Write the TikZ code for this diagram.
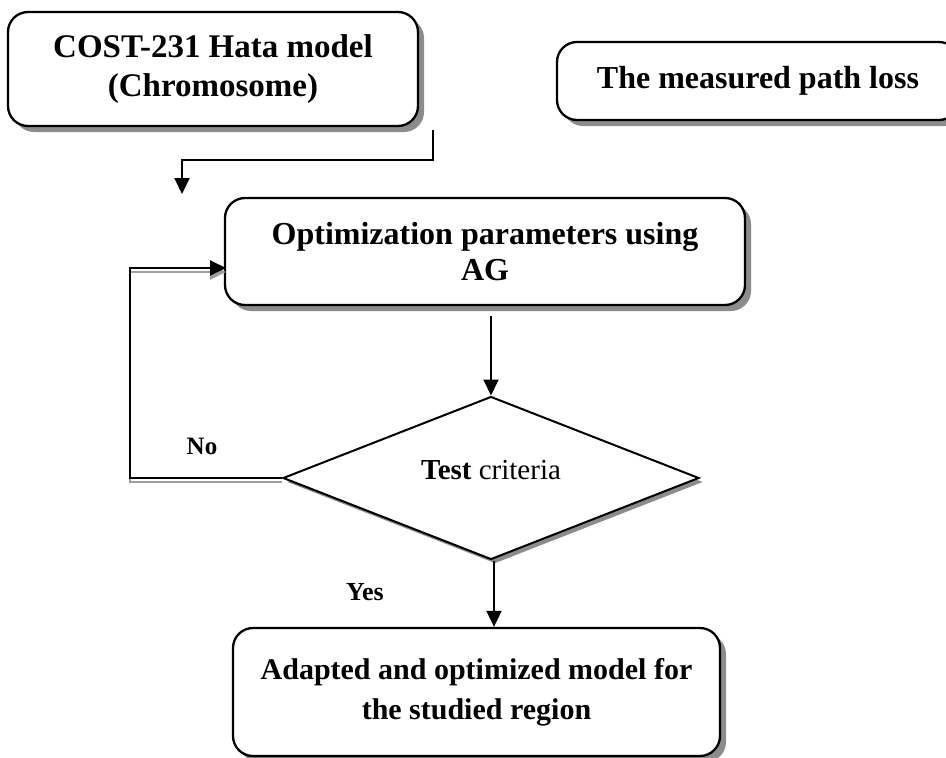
\documentclass[tikz,border=0pt]{standalone}
\usepackage{fontspec}
\setmainfont{Liberation Serif}
\usetikzlibrary{shadows,shapes.geometric,arrows.meta}
\begin{document}
\begin{tikzpicture}[x=1pt,y=-1pt,
  boxshadow/.style={drop shadow={shadow xshift=6pt,shadow yshift=-6pt,fill=black!45,opacity=1}},
  box/.style={draw,line width=2.3pt,rounded corners=20pt,fill=white,align=center,
    inner sep=0pt,boxshadow},
  decision/.style={draw,diamond,line width=2pt,fill=white,inner sep=0pt,
    drop shadow={shadow xshift=4pt,shadow yshift=-4pt,fill=black!45,opacity=1}},
  conn/.style={line width=1.9pt,-{Triangle[length=16pt,width=15pt]}},
  connshadow/.style={line width=2.8pt,draw=black!38,-{Triangle[length=16pt,width=15pt]}},
  lbl/.style={font=\bfseries\fontsize{25}{30}\selectfont,inner sep=0pt}
]
\clip (0,0) rectangle (946,758);
\fill[white] (0,0) rectangle (946,758);

\node[box,minimum width=410pt,minimum height=114pt,font=\bfseries\fontsize{33}{39}\selectfont]
  (cost) at (213,69) {COST-231 Hata model\\(Chromosome)};
\node[box,minimum width=402pt,minimum height=78pt,font=\bfseries\fontsize{32}{37}\selectfont]
  (meas) at (758,81) {The measured path loss};
\node[box,minimum width=520pt,minimum height=107pt,font=\bfseries\fontsize{32}{36}\selectfont]
  (opt) at (485,251.5) {Optimization parameters using\\AG};
\node[decision,minimum width=416pt,minimum height=163pt] (test) at (491,478) {};
\node[inner sep=0pt,font=\fontsize{29}{34}\selectfont] (crit) at (491,470) {\textbf{Test} criteria};
\node[box,minimum width=487pt,minimum height=128pt,font=\bfseries\fontsize{30}{40}\selectfont]
  (ad) at (476.5,692) {Adapted and optimized model for\\the studied region};

\node[lbl] (no) at (202,446) {No};
\node[lbl,font=\bfseries\fontsize{26}{30}\selectfont] (yes) at (365,592) {Yes};

% connector from the chromosome box
\coordinate (c1s) at (433,130);
\coordinate (c1m) at (300,160);
\coordinate (c1e) at (182,194);
\draw[conn] (c1s) |- (c1m) -| (c1e);

% optimization -> test
\draw[conn,shorten <=10pt] (opt.south -| test.north) -- (test.north);

% feedback loop No
\coordinate (lpc) at (130,478);
\coordinate (lpin) at (226,268);
\draw[connshadow] ([yshift=-4pt]test.west) -- ([yshift=-4pt]lpc) -- ([yshift=-4pt]lpc |- lpin) -- ([yshift=-4pt]lpin);
\draw[conn] (test.west) -- (lpc) |- (lpin);

% test -> adapted (Yes)
\draw[conn] ([xshift=3pt]test.south) -- ([xshift=3pt]test.south |- ad.north);
\end{tikzpicture}
\end{document}
